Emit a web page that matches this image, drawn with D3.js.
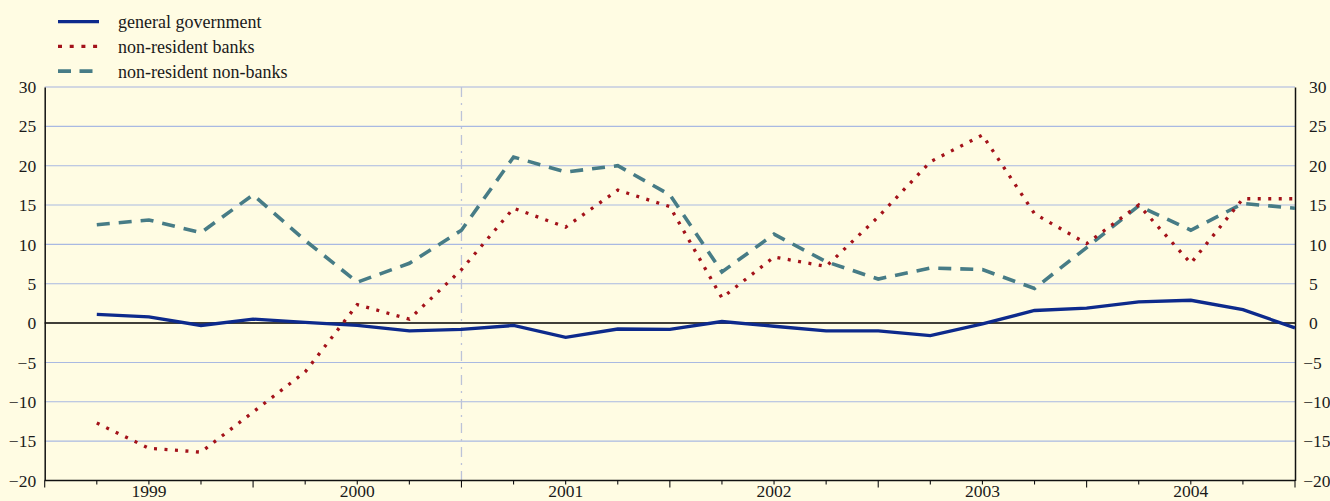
<!DOCTYPE html>
<html>
<head>
<meta charset="utf-8">
<script src="https://cdn.jsdelivr.net/npm/d3@7"></script>
<style>
  html, body { margin: 0; padding: 0; background: #fffce3; }
  svg { display: block; }
  svg text { font-family: "Liberation Serif", "DejaVu Serif", serif; fill: #1a1a1a; }
</style>
</head>
<body>
<svg id="chart" width="1330" height="501" font-family="Liberation Serif, serif"></svg>
<script>
// Quarterly observations, 1999 Q1 – 2004 Q4
const years = ["1999", "2000", "2001", "2002", "2003", "2004"];

const generalGovernment = [
  1.1, 0.8, -0.3, 0.5, 0.1, -0.3, -1.0, -0.8,
  -0.3, -1.8, -0.75, -0.8, 0.2, -0.4, -1.0, -1.0,
  -1.6, -0.1, 1.6, 1.9, 2.7, 2.9, 1.7, -0.6
];
const nonResidentBanks = [
  -12.7, -15.9, -16.4, -11.3, -6.2, 2.35, 0.5, 6.8,
  14.6, 12.2, 16.9, 14.8, 3.2, 8.4, 7.2, 13.5,
  20.5, 23.9, 13.9, 10.1, 15.0, 7.6, 15.8, 15.8
];
const nonResidentNonBanks = [
  12.5, 13.1, 11.5, 16.3, 10.5, 5.2, 7.6, 11.8,
  21.1, 19.2, 20.0, 16.3, 6.5, 11.3, 7.8, 5.6,
  7.0, 6.8, 4.4, 9.6, 14.9, 11.8, 15.2, 14.6
];
const yTicks = [-20, -15, -10, -5, 0, 5, 10, 15, 20, 25, 30];

const seriesNames = ["general government", "non-resident banks", "non-resident non-banks"];

const svg = d3.select("#chart");
const plotLeft = 44.7, plotRight = 1295, plotTop = 87, plotBottom = 480.5;
const fontSize = "18px";
const axisFontSize = "17.5px";

// x: quarter boundaries 0..24; observation i sits at the end of its quarter (i + 1)
const x = d3.scaleLinear().domain([0, 24]).range([plotLeft, plotRight]);
const y = d3.scaleLinear().domain([-20, 30]).range([plotBottom, plotTop]);

// horizontal grid
svg.append("g")
  .selectAll("line")
  .data(yTicks.filter(v => v !== 0 && v !== -20))
  .join("line")
  .attr("x1", plotLeft).attr("x2", plotRight)
  .attr("y1", d => y(d)).attr("y2", d => y(d))
  .attr("stroke", d => d === 30 ? "#c3cbe0" : "#a9b9e2")
  .attr("stroke-width", d => d === 30 ? 1.6 : 1.1);

// vertical dash-dot marker at the end of 2000
svg.append("line")
  .attr("x1", x(8)).attr("x2", x(8))
  .attr("y1", plotTop).attr("y2", plotBottom)
  .attr("stroke", "#bcc3d8")
  .attr("stroke-width", 1.3)
  .attr("stroke-dasharray", "10,6,2,6");

// zero line
svg.append("line")
  .attr("x1", plotLeft).attr("x2", plotRight)
  .attr("y1", y(0)).attr("y2", y(0))
  .attr("stroke", "#000").attr("stroke-width", 1.5);

// left / right axes (labels only)
const yLeft = d3.axisLeft(y).tickValues(yTicks).tickSize(0).tickPadding(8.5).tickFormat(d3.format("d"));
const yRight = d3.axisRight(y).tickValues(yTicks).tickSize(0).tickPadding(14).tickFormat(d3.format("d"));

const gl = svg.append("g").attr("transform", `translate(${plotLeft},0)`).call(yLeft);
const gr = svg.append("g").attr("transform", `translate(${plotRight},0)`).call(yRight);
[gl, gr].forEach(g => {
  g.attr("font-family", null).attr("font-size", null);
  g.select(".domain").attr("stroke", "#111").attr("stroke-width", 1.5);
  g.selectAll("text").style("font-size", axisFontSize).attr("fill", "#1a1a1a");
});

// on the right, digits line up and the minus sign hangs to the left
const probe = svg.append("text").style("font-size", axisFontSize).text("-");
const minusWidth = probe.node().getComputedTextLength();
probe.remove();
gr.selectAll(".tick text")
  .attr("dx", d => d < 0 ? -minusWidth : 0);

// bottom axis with quarter ticks, longer at year boundaries
const gx = svg.append("g").attr("transform", `translate(0,${plotBottom})`);
gx.append("line")
  .attr("x1", plotLeft).attr("x2", plotRight)
  .attr("stroke", "#111").attr("stroke-width", 1.6);
gx.selectAll("line.tick")
  .data(d3.range(25))
  .join("line")
  .attr("class", "tick")
  .attr("x1", d => x(d)).attr("x2", d => x(d))
  .attr("y1", 0).attr("y2", d => d % 4 === 0 ? 7 : 4)
  .attr("stroke", "#111").attr("stroke-width", 1.1);
gx.selectAll("text")
  .data(years)
  .join("text")
  .attr("x", (d, i) => x(i * 4 + 2))
  .attr("y", 16)
  .attr("text-anchor", "middle")
  .style("font-size", axisFontSize)
  .text(d => d);

// series
const styles = [
  { data: generalGovernment, color: "#0d2a8c", width: 3.3, dash: null, legendDash: null },
  { data: nonResidentBanks, color: "#a3121a", width: 3.3, dash: "3,7.5", legendDash: "4,7.7" },
  { data: nonResidentNonBanks, color: "#477c86", width: 3.6, dash: "13,9", legendDash: "13,8.5" }
];

const line = d3.line().x((d, i) => x(i + 1)).y(d => y(d));

svg.append("g")
  .selectAll("path")
  .data([styles[2], styles[1], styles[0]])
  .join("path")
  .attr("d", d => line(d.data))
  .attr("fill", "none")
  .attr("stroke", d => d.color)
  .attr("stroke-width", d => d.width)
  .attr("stroke-dasharray", d => d.dash)
  .attr("stroke-linejoin", "miter");

// legend
const legend = svg.append("g");
const lg = legend.selectAll("g")
  .data(styles.map((s, i) => ({ ...s, name: seriesNames[i] })))
  .join("g")
  .attr("transform", (d, i) => `translate(58,${21.7 + i * 24.7})`);
lg.append("line")
  .attr("x1", 0).attr("x2", 41)
  .attr("stroke", d => d.color)
  .attr("stroke-width", d => d.width)
  .attr("stroke-dasharray", d => d.legendDash);
lg.append("text")
  .attr("x", 60).attr("y", 6.5)
  .style("font-size", fontSize)
  .text(d => d.name);
</script>
</body>
</html>
